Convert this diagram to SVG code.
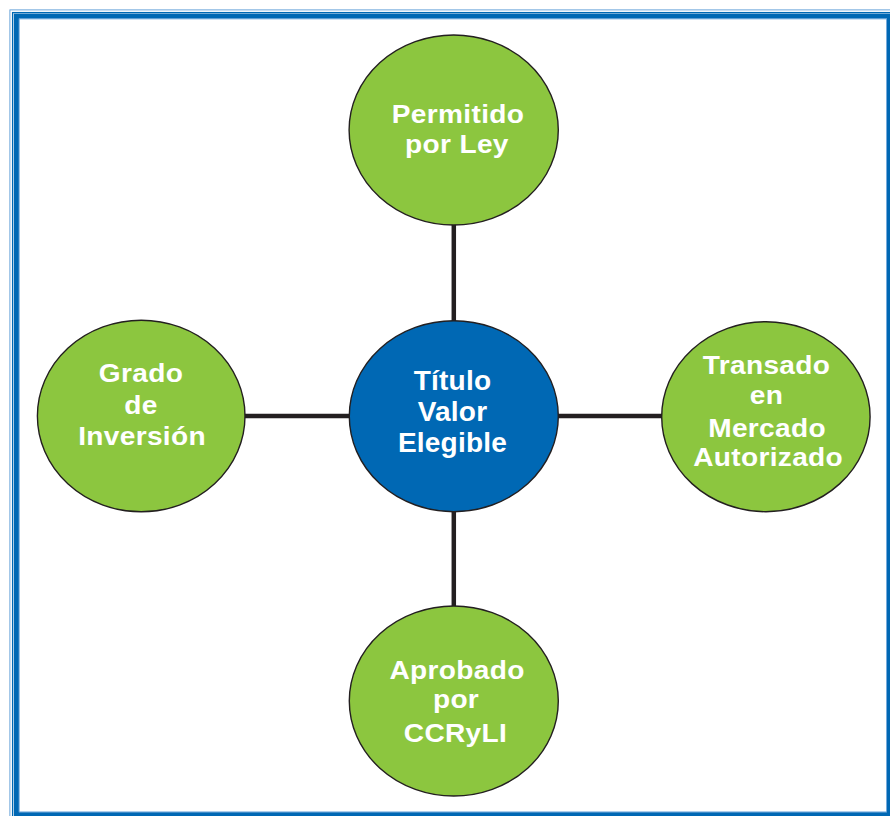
<svg xmlns="http://www.w3.org/2000/svg" width="890" height="816" viewBox="0 0 890 816">
  <style>
    .node-green { fill: #8cc63f; stroke: #231f20; stroke-width: 1.4; }
    .node-blue { fill: #0068b4; stroke: #231f20; stroke-width: 1.4; }
    .label { font-family: "Liberation Sans", Arial, sans-serif; font-weight: bold; fill: #ffffff; text-anchor: middle; }
    .g { font-size: 26px; letter-spacing: 0.3px; }
    .c { font-size: 27.5px; letter-spacing: 0.2px; }
    .conn { stroke: #231f20; stroke-width: 4.5; fill: none; }
  </style>
  <rect x="0" y="0" width="890" height="816" fill="#ffffff"/>
  <g id="frame" fill="none">
    <rect x="9.9" y="9.9" width="900" height="900" stroke="#5a9ad6" stroke-width="0.9"/>
    <rect x="12.6" y="12.6" width="900" height="900" stroke="#0068b4" stroke-width="1.3"/>
    <rect x="16.4" y="16.1" width="873" height="798.6" stroke="#0068b4" stroke-width="5"/>
    <rect x="19.2" y="18.9" width="867.4" height="793" stroke="#5a9ad6" stroke-width="0.8"/>
  </g>
  <g id="connectors">
    <line class="conn" x1="453.8" y1="220" x2="453.8" y2="326"/>
    <line class="conn" x1="453.8" y1="506" x2="453.8" y2="611"/>
    <line class="conn" x1="240" y1="416" x2="354" y2="416"/>
    <line class="conn" x1="553" y1="416" x2="667" y2="416"/>
  </g>
  <g id="node-permitido">
    <ellipse class="node-green" cx="453.7" cy="130" rx="104.6" ry="95"/>
    <text class="label g" transform="translate(458 0) scale(1.08 1)"><tspan x="0" y="123.3">Permitido</tspan><tspan x="-1" y="153">por Ley</tspan></text>
  </g>
  <g id="node-grado">
    <ellipse class="node-green" cx="141.2" cy="416" rx="103.8" ry="95.8"/>
    <text class="label g" transform="translate(141 0) scale(1.08 1)"><tspan x="0" y="381.7">Grado</tspan><tspan x="0" y="414">de</tspan><tspan x="1" y="445">Inversión</tspan></text>
  </g>
  <g id="node-titulo">
    <ellipse class="node-blue" cx="453.8" cy="416.2" rx="104.5" ry="95.5"/>
    <text class="label c" transform="translate(452.5 0) scale(1.02 1)"><tspan x="0" y="390">Título</tspan><tspan x="0" y="421">Valor</tspan><tspan x="0" y="452">Elegible</tspan></text>
  </g>
  <g id="node-transado">
    <ellipse class="node-green" cx="765.9" cy="416.7" rx="104.2" ry="95"/>
    <text class="label g" transform="translate(766.5 0) scale(1.08 1)"><tspan x="0" y="374">Transado</tspan><tspan x="0" y="404.3">en</tspan><tspan x="0.5" y="436.7">Mercado</tspan><tspan x="1.5" y="466">Autorizado</tspan></text>
  </g>
  <g id="node-aprobado">
    <ellipse class="node-green" cx="453.8" cy="701" rx="104.5" ry="95"/>
    <text class="label g" transform="translate(456 0) scale(1.08 1)"><tspan x="1" y="679.3">Aprobado</tspan><tspan x="0" y="708.3">por</tspan><tspan x="-0.5" y="741.7">CCRyLI</tspan></text>
  </g>
</svg>
